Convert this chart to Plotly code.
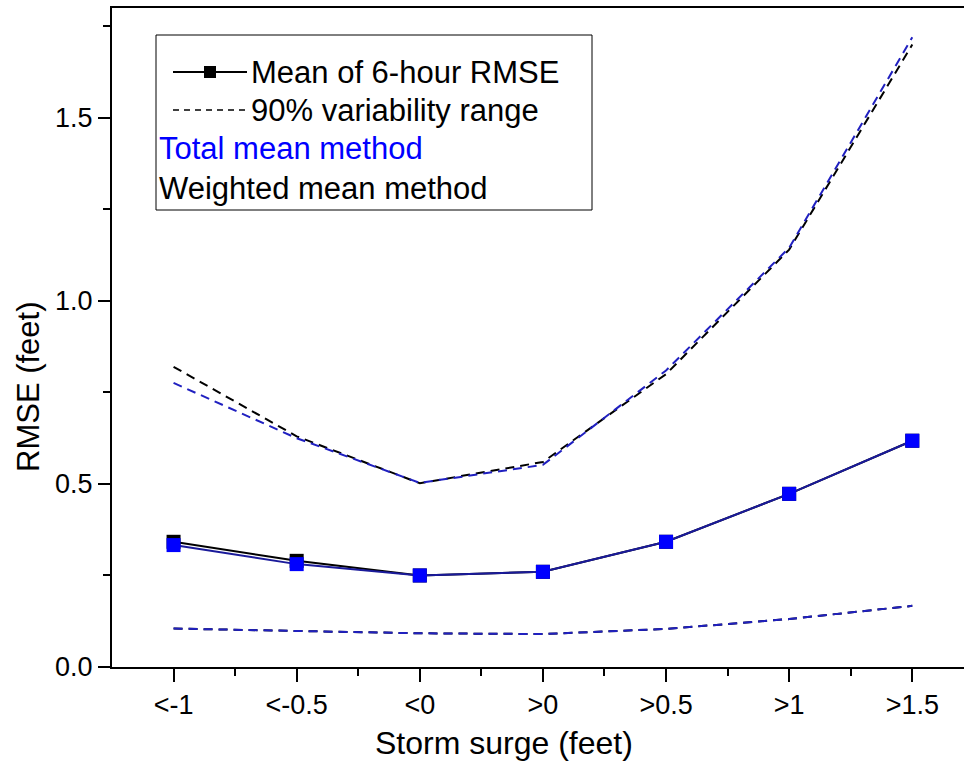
import plotly.graph_objects as go

categories = ["<-1", "<-0.5", "<0", ">0", ">0.5", ">1", ">1.5"]

# Weighted mean method (black)
mean_weighted = [0.342, 0.290, 0.250, 0.260, 0.342, 0.473, 0.618]
upper_weighted = [0.820, 0.630, 0.502, 0.560, 0.800, 1.140, 1.700]
lower_weighted = [0.105, 0.098, 0.092, 0.090, 0.104, 0.131, 0.167]

# Total mean method (blue)
mean_total = [0.333, 0.281, 0.250, 0.260, 0.342, 0.473, 0.618]
upper_total = [0.776, 0.625, 0.503, 0.552, 0.810, 1.145, 1.720]
lower_total = [0.105, 0.098, 0.092, 0.090, 0.104, 0.131, 0.167]

y_ticks = [0.0, 0.5, 1.0, 1.5]
y_ticktext = ["0.0", "0.5", "1.0", "1.5"]

legend_rows = ["Mean of 6-hour RMSE", "90% variability range", "Total mean method", "Weighted mean method"]

W, H = 964, 761
ML, MR, MT, MB = 112, 0, 8, 94
PW, PH = W - ML - MR, H - MT - MB

def px(x):
    return (x - ML) / PW

def py(y):
    return (H - MB - y) / PH

BLUE = "#0000ff"
BLUE_LINE = "#2020c0"
DASH = "9px,6px"
xs = list(range(len(categories)))

fig = go.Figure()
# black (weighted) first
fig.add_trace(go.Scatter(x=xs, y=upper_weighted, mode="lines",
                         line=dict(color="black", width=2, dash=DASH), showlegend=False))
fig.add_trace(go.Scatter(x=xs, y=lower_weighted, mode="lines",
                         line=dict(color="black", width=2, dash=DASH), showlegend=False))
fig.add_trace(go.Scatter(x=xs, y=mean_weighted, mode="lines+markers",
                         line=dict(color="black", width=2),
                         marker=dict(symbol="square", size=14, color="black"), showlegend=False))
# blue (total)
fig.add_trace(go.Scatter(x=xs, y=upper_total, mode="lines",
                         line=dict(color=BLUE_LINE, width=2, dash=DASH), showlegend=False))
fig.add_trace(go.Scatter(x=xs, y=lower_total, mode="lines",
                         line=dict(color=BLUE_LINE, width=2, dash=DASH), showlegend=False))
fig.add_trace(go.Scatter(x=xs, y=mean_total, mode="lines+markers",
                         line=dict(color="#1a1a9a", width=2),
                         marker=dict(symbol="square", size=14, color=BLUE), showlegend=False))

font_family = "Liberation Sans, Arial, sans-serif"

fig.update_layout(
    width=W, height=H,
    margin=dict(l=ML, r=MR, t=MT, b=MB, pad=0),
    paper_bgcolor="white", plot_bgcolor="white",
    font=dict(family=font_family, color="black"),
    xaxis=dict(
        range=[-0.5, 6.42], tickmode="array", tickvals=xs, ticktext=categories,
        showline=True, linecolor="black", linewidth=2, mirror=True,
        ticks="outside", ticklen=13, tickwidth=2, tickcolor="black",
        tickfont=dict(size=27, family=font_family),
        showgrid=False, zeroline=False,
        minor=dict(tickvals=[0.5, 1.5, 2.5, 3.5, 4.5, 5.5], ticks="outside",
                   ticklen=7, tickwidth=2, tickcolor="black", showgrid=False),
    ),
    yaxis=dict(
        range=[0, 1.8], tickmode="array", tickvals=y_ticks, ticktext=y_ticktext,
        showline=True, linecolor="black", linewidth=2,
        ticks="outside", ticklen=12, tickwidth=2, tickcolor="black",
        tickfont=dict(size=27, family=font_family),
        showgrid=False, zeroline=False,
        minor=dict(tickvals=[0.25, 0.75, 1.25, 1.75], ticks="outside",
                   ticklen=7, tickwidth=2, tickcolor="black", showgrid=False),
    ),
)

annotations = [
    dict(text="Storm surge (feet)", x=px(504), y=py(743), xref="paper", yref="paper",
         showarrow=False, xanchor="center", yanchor="middle", font=dict(size=32)),
    dict(text="RMSE (feet)", x=px(28), y=py(387), xref="paper", yref="paper",
         showarrow=False, xanchor="center", yanchor="middle", textangle=-90, font=dict(size=31)),
]
row_y = [72, 110, 148, 188]
row_x = [249, 249, 157, 157]
row_colors = ["black", "black", BLUE, "black"]
for t, yy, xx, c in zip(legend_rows, row_y, row_x, row_colors):
    annotations.append(dict(text=t, x=px(xx), y=py(yy), xref="paper", yref="paper",
                            showarrow=False, xanchor="left", yanchor="middle",
                            font=dict(size=31, color=c)))
fig.update_layout(annotations=annotations)

shapes = [
    dict(type="rect", xref="paper", yref="paper", x0=px(156), x1=px(592), y0=py(210), y1=py(35),
         line=dict(color="black", width=1), fillcolor="rgba(0,0,0,0)"),
    dict(type="line", xref="paper", yref="paper", x0=px(173), x1=px(247), y0=py(72), y1=py(72),
         line=dict(color="black", width=2)),
    dict(type="rect", xref="paper", yref="paper", x0=px(204), x1=px(216), y0=py(78), y1=py(66),
         line=dict(color="black", width=0), fillcolor="black"),
    dict(type="line", xref="paper", yref="paper", x0=px(173), x1=px(247), y0=py(110), y1=py(110),
         line=dict(color="black", width=1.5, dash="6px,5px")),
]
fig.update_layout(shapes=shapes)

fig.write_html("out.html")
